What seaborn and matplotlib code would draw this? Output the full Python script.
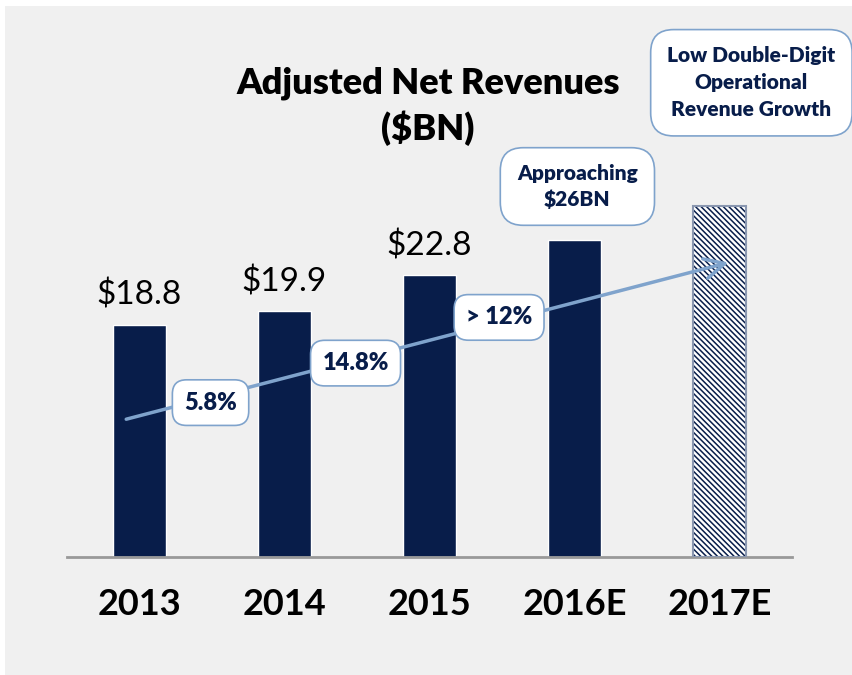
import matplotlib
matplotlib.use("Agg")
import matplotlib.pyplot as plt
from matplotlib.patches import Rectangle
import seaborn as sns
import pandas as pd

# chart data
years = ["2013", "2014", "2015", "2016E", "2017E"]
revenues = [18.8, 19.9, 22.8, 25.7, 28.4]
value_labels = ["$18.8", "$19.9", "$22.8", "", ""]
growth_labels = ["5.8%", "14.8%", "> 12%"]
callout_2016 = "Approaching\n$26BN"
callout_2017 = "Low Double-Digit\nOperational\nRevenue Growth"

NAVY = "#081d4a"
LINE_BLUE = "#7fa3cc"
PANEL = "#f0f0f0"

sns.set_theme(style="white")
plt.rcParams["font.family"] = ["Lato", "DejaVu Sans"]
plt.rcParams["text.color"] = "black"
plt.rcParams["hatch.linewidth"] = 1.1

df = pd.DataFrame({"year": years, "revenue": revenues})

fig = plt.figure(figsize=(8.53, 6.75), dpi=100)
fig.patch.set_facecolor("white")
fig.patches.append(Rectangle((5 / 853, 0), 1, 669 / 675, transform=fig.transFigure,
                             facecolor=PANEL, edgecolor="none", zorder=-10))

ax = fig.add_axes([67 / 853, 118 / 675, 725 / 853, 494 / 675])
ax.set_facecolor("none")

sns.barplot(data=df, x="year", y="revenue", color=NAVY, saturation=1,
            width=0.36, ax=ax)

# forecast bar is hatched
last = ax.patches[-1]
last.set_facecolor("white")
last.set_edgecolor(NAVY)
last.set_hatch("\\\\\\\\\\\\")
last.set_linewidth(0)
ax.add_patch(Rectangle((last.get_x(), 0), last.get_width(), last.get_height(),
                       fill=False, edgecolor="#8a97b0", linewidth=1.5, zorder=3))

ax.set_xlim(-0.5, 4.5)
ax.set_ylim(0, 40)
ax.set_xlabel("")
ax.set_ylabel("")
ax.set_yticks([])
ax.tick_params(axis="x", length=0, pad=22)
for lbl in ax.get_xticklabels():
    lbl.set_fontsize(26)
    lbl.set_fontweight("bold")
    lbl.set_color("black")
for side in ["top", "right", "left"]:
    ax.spines[side].set_visible(False)
ax.spines["bottom"].set_color("#999999")
ax.spines["bottom"].set_linewidth(2)

# value labels above the actual bars
for i, (v, t) in enumerate(zip(revenues, value_labels)):
    if t:
        ax.text(i, v + 2.4, t, ha="center", va="center", fontsize=24, color="black")

# title
fig.text(428 / 853, 1 - 106 / 675, "Adjusted Net Revenues\n($BN)", ha="center",
         va="center", fontsize=26, fontweight="heavy", color="black", linespacing=1.35)

# growth trend arrow
ax.annotate("", xy=(4.08, 23.9), xytext=(-0.11, 11.1),
            arrowprops=dict(arrowstyle="->,head_length=1.2,head_width=0.6",
                            color=LINE_BLUE, lw=2.5), zorder=5)

box = dict(boxstyle="round,pad=0.5,rounding_size=0.6", facecolor="white",
           edgecolor=LINE_BLUE, linewidth=1.2)
growth_pos = [(0.49, 12.5), (1.49, 15.7), (2.48, 19.4)]
for (gx, gy), t in zip(growth_pos, growth_labels):
    ax.text(gx, gy, t, ha="center", va="center", fontsize=17, fontweight="heavy",
            color=NAVY, bbox=box, zorder=6)

callout_box = dict(boxstyle="round,pad=0.8,rounding_size=1.1", facecolor="white",
                   edgecolor=LINE_BLUE, linewidth=1.2)
ax.text(3.02, revenues[3] + 4.3, callout_2016, ha="center", va="center",
        fontsize=15, fontweight="heavy", color=NAVY, linespacing=1.35, bbox=callout_box)
ax.text(4.22, revenues[4] + 10.0, callout_2017, ha="center", va="center",
        fontsize=15, fontweight="heavy", color=NAVY, linespacing=1.5, bbox=callout_box,
        clip_on=False)

fig.savefig("out.png", dpi=100, facecolor=fig.get_facecolor())
